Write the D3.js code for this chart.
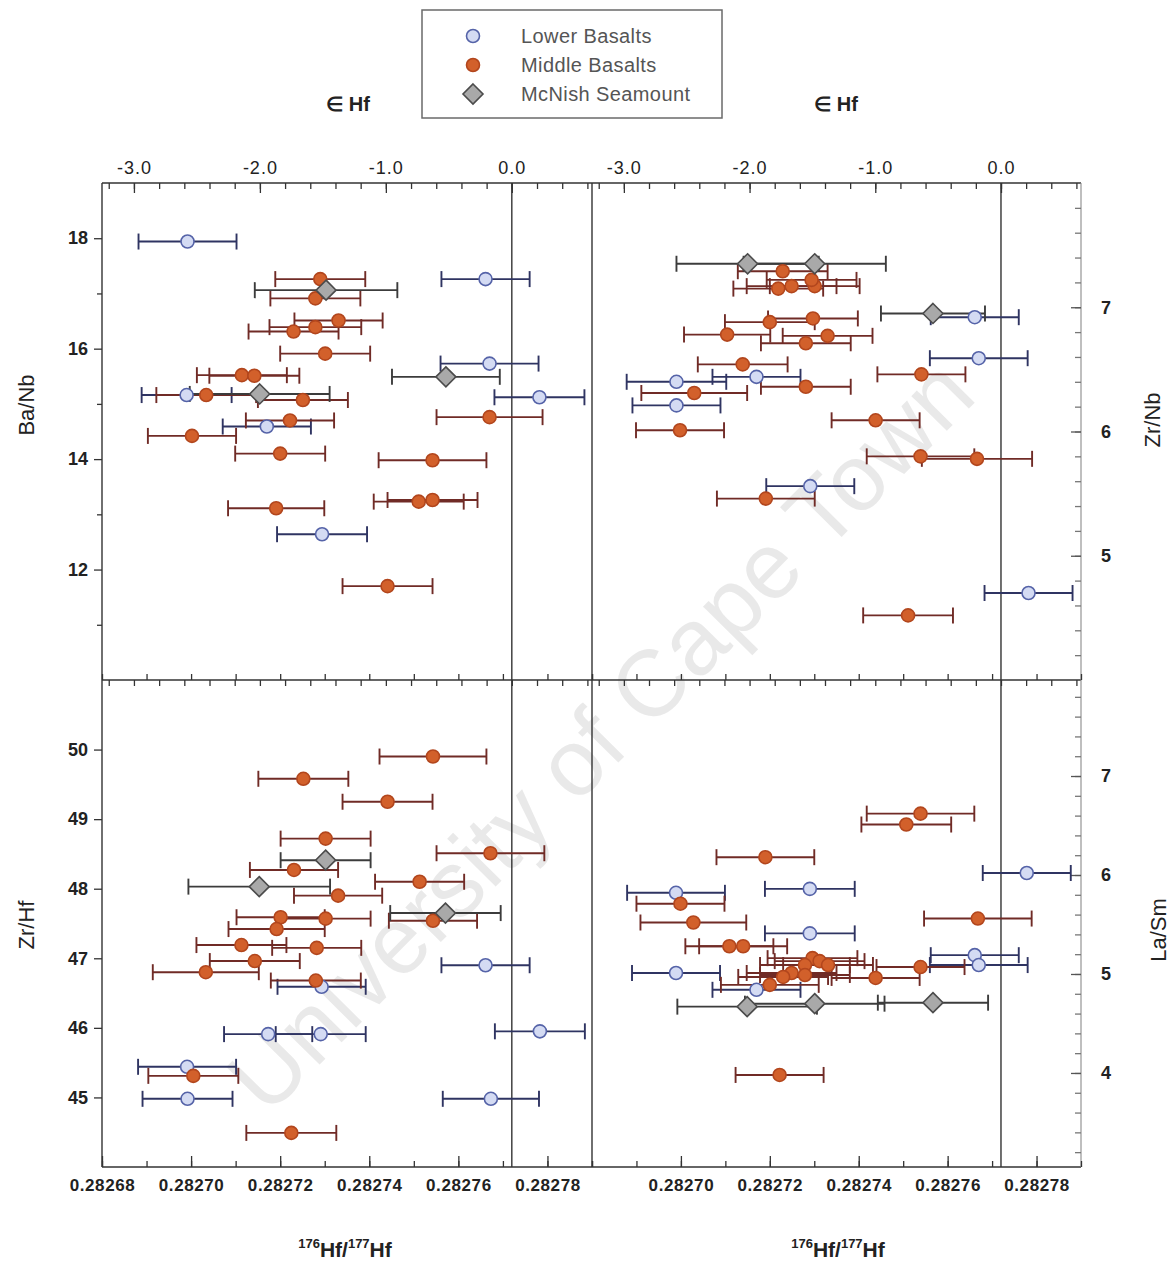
<!DOCTYPE html>
<html>
<head>
<meta charset="utf-8">
<script src="https://cdn.jsdelivr.net/npm/d3@7"></script>
<style>
  html, body { margin: 0; padding: 0; background: #fff; }
  svg { display: block; font-family: "Liberation Sans", Arial, sans-serif; }
</style>
</head>
<body>
<svg id="chart" width="1175" height="1265"></svg>
<script>
// 176Hf/177Hf against trace-element ratios, Lower / Middle Basalts and McNish Seamount.
// Each row: [176Hf/177Hf, element ratio, error half-width on 176Hf/177Hf]

const chur = 0.282772;                 // chondritic 176Hf/177Hf used for the εHf scale
const ratioDomain = [0.28268, 0.28279];

const seriesNames = ["Lower Basalts", "Middle Basalts", "McNish Seamount"];

// ---- Ba/Nb ----
const baNbLower = [
  [0.2826992, 17.94, 0.0000110], [0.2827661, 17.26, 0.0000099], [0.2827670, 15.73, 0.0000110],
  [0.2826990, 15.16, 0.0000101], [0.2827170, 14.59, 0.0000099], [0.2827782, 15.12, 0.0000101],
  [0.2827294, 12.64, 0.0000101]
];
const baNbMiddle = [
  [0.2827290, 17.26, 0.0000101], [0.2827279, 16.91, 0.0000101], [0.2827331, 16.51, 0.0000099],
  [0.2827279, 16.39, 0.0000103], [0.2827230, 16.31, 0.0000101], [0.2827301, 15.91, 0.0000101],
  [0.2827114, 15.52, 0.0000101], [0.2827142, 15.51, 0.0000101], [0.2827034, 15.16, 0.0000112],
  [0.2827251, 15.07, 0.0000101], [0.2827222, 14.70, 0.0000099], [0.2827670, 14.76, 0.0000119],
  [0.2827002, 14.42, 0.0000099], [0.2827200, 14.10, 0.0000101], [0.2827542, 13.98, 0.0000121],
  [0.2827511, 13.23, 0.0000101], [0.2827542, 13.26, 0.0000101], [0.2827191, 13.11, 0.0000108],
  [0.2827441, 11.70, 0.0000101]
];
const baNbMcNish = [
  [0.2827303, 17.06, 0.0000160], [0.2827572, 15.49, 0.0000121], [0.2827154, 15.18, 0.0000157]
];

// ---- Zr/Hf ----
const zrHfLower = [
  [0.2827661, 46.90, 0.0000099], [0.2827293, 46.59, 0.0000099], [0.2827173, 45.91, 0.0000099],
  [0.2827291, 45.91, 0.0000101], [0.2827783, 45.95, 0.0000101], [0.2826991, 45.44, 0.0000110],
  [0.2826992, 44.98, 0.0000101], [0.2827673, 44.98, 0.0000108]
];
const zrHfMiddle = [
  [0.2827543, 49.90, 0.0000120], [0.2827252, 49.58, 0.0000101], [0.2827441, 49.25, 0.0000101],
  [0.2827302, 48.72, 0.0000101], [0.2827672, 48.51, 0.0000121], [0.2827231, 48.27, 0.0000099],
  [0.2827513, 48.10, 0.0000100], [0.2827330, 47.90, 0.0000099], [0.2827543, 47.54, 0.0000099],
  [0.2827201, 47.59, 0.0000099], [0.2827302, 47.57, 0.0000101], [0.2827192, 47.42, 0.0000108],
  [0.2827113, 47.19, 0.0000101], [0.2827282, 47.15, 0.0000100], [0.2827143, 46.96, 0.0000101],
  [0.2827033, 46.80, 0.0000119], [0.2827280, 46.68, 0.0000101], [0.2827005, 45.31, 0.0000101],
  [0.2827225, 44.49, 0.0000101]
];
const zrHfMcNish = [
  [0.2827302, 48.41, 0.0000101], [0.2827153, 48.03, 0.0000159], [0.2827571, 47.65, 0.0000124]
];

// ---- Zr/Nb ----
const zrNbLower = [
  [0.2827661, 6.92, 0.0000099], [0.2827670, 6.59, 0.0000110], [0.2827170, 6.44, 0.0000099],
  [0.2826990, 6.40, 0.0000112], [0.2826990, 6.21, 0.0000099], [0.2827291, 5.56, 0.0000099],
  [0.2827782, 4.70, 0.0000099]
];
const zrNbMiddle = [
  [0.2827229, 7.29, 0.0000101], [0.2827219, 7.15, 0.0000101], [0.2827249, 7.17, 0.0000101],
  [0.2827301, 7.17, 0.0000101], [0.2827294, 7.22, 0.0000101], [0.2827200, 6.88, 0.0000101],
  [0.2827297, 6.91, 0.0000101], [0.2827104, 6.78, 0.0000097], [0.2827330, 6.77, 0.0000101],
  [0.2827281, 6.71, 0.0000101], [0.2827139, 6.54, 0.0000101], [0.2827541, 6.46, 0.0000099],
  [0.2827281, 6.36, 0.0000101], [0.2827030, 6.31, 0.0000119], [0.2826998, 6.01, 0.0000099],
  [0.2827438, 6.09, 0.0000099], [0.2827539, 5.80, 0.0000121], [0.2827666, 5.78, 0.0000124],
  [0.2827191, 5.46, 0.0000110], [0.2827511, 4.52, 0.0000101]
];
const zrNbMcNish = [
  [0.2827150, 7.35, 0.0000160], [0.2827301, 7.35, 0.0000160], [0.2827567, 6.95, 0.0000117]
];

// ---- La/Sm ----
const laSmLower = [
  [0.2827778, 6.02, 0.0000099], [0.2827290, 5.86, 0.0000101], [0.2826989, 5.82, 0.0000110],
  [0.2827290, 5.41, 0.0000101], [0.2827661, 5.19, 0.0000099], [0.2827670, 5.09, 0.0000110],
  [0.2826989, 5.01, 0.0000099], [0.2827170, 4.84, 0.0000099]
];
const laSmMiddle = [
  [0.2827539, 6.62, 0.0000121], [0.2827507, 6.51, 0.0000101], [0.2827190, 6.18, 0.0000110],
  [0.2826999, 5.71, 0.0000099], [0.2827028, 5.52, 0.0000119], [0.2827668, 5.56, 0.0000121],
  [0.2827109, 5.28, 0.0000099], [0.2827140, 5.28, 0.0000099], [0.2827539, 5.07, 0.0000099],
  [0.2827296, 5.16, 0.0000101], [0.2827312, 5.13, 0.0000101], [0.2827331, 5.09, 0.0000101],
  [0.2827279, 5.09, 0.0000101], [0.2827249, 5.01, 0.0000101], [0.2827279, 4.99, 0.0000101],
  [0.2827230, 4.97, 0.0000101], [0.2827200, 4.89, 0.0000110], [0.2827438, 4.96, 0.0000099],
  [0.2827222, 3.98, 0.0000099]
];
const laSmMcNish = [
  [0.2827149, 4.67, 0.0000157], [0.2827301, 4.70, 0.0000157], [0.2827567, 4.71, 0.0000124]
];

// ---- tick values and labels ----
const ratioTicksLeft  = [0.28268, 0.28270, 0.28272, 0.28274, 0.28276, 0.28278];
const ratioLabelsLeft = ["0.28268", "0.28270", "0.28272", "0.28274", "0.28276", "0.28278"];
const ratioTicksRight  = [0.28270, 0.28272, 0.28274, 0.28276, 0.28278];
const ratioLabelsRight = ["0.28270", "0.28272", "0.28274", "0.28276", "0.28278"];
const epsTicks  = [-3, -2, -1, 0];
const epsLabels = ["-3.0", "-2.0", "-1.0", "0.0"];
const baNbTicks = [12, 14, 16, 18];
const zrHfTicks = [45, 46, 47, 48, 49, 50];
const zrNbTicks = [5, 6, 7];
const laSmTicks = [4, 5, 6, 7];

// ---------------------------------------------------------------------------
const svg = d3.select("#chart");
const yTop = 183, yMid = 680, yBot = 1167;
const leftX = [102, 592], rightX = [592, 1081];
const ink = "#333";

const eps = r => (r / chur - 1) * 1e4;

const xL = d3.scaleLinear().domain(ratioDomain).range(leftX);
const xR = d3.scaleLinear().domain(ratioDomain).range(rightX);
const eL = d3.scaleLinear().domain(ratioDomain.map(eps)).range(leftX);
const eR = d3.scaleLinear().domain(ratioDomain.map(eps)).range(rightX);

const yBaNb = d3.scaleLinear().domain([10, 19]).range([yMid, yTop]);
const yZrHf = d3.scaleLinear().domain([44, 51]).range([yBot, yMid]);
const yZrNb = d3.scaleLinear().domain([4, 8]).range([yMid, yTop]);
const yLaSm = d3.scaleLinear().domain([3.05, 7.97]).range([yBot, yMid]);

const styles = [
  { shape: "circle",  fill: "#d4dbf3", stroke: "#5563a8", bar: "#2f3462" },
  { shape: "circle",  fill: "#d2602b", stroke: "#b2461d", bar: "#702b26" },
  { shape: "diamond", fill: "#a9a9a9", stroke: "#4b4b4b", bar: "#3c3c3c" }
];

// watermark behind the data
svg.append("text")
  .attr("transform", "translate(600,735) rotate(-45.3)")
  .attr("text-anchor", "middle")
  .attr("dominant-baseline", "central")
  .attr("font-size", 94)
  .attr("fill", "#c8c8c8")
  .attr("fill-opacity", 0.4)
  .text("University of Cape Town");

// frame and reference lines
const frame = svg.append("g").attr("stroke", ink).attr("stroke-width", 1.4).attr("fill", "none");
const hline = (y, x0, x1) => frame.append("line").attr("x1", x0).attr("x2", x1).attr("y1", y).attr("y2", y);
const vline = (x, y0, y1, c, w) => frame.append("line").attr("x1", x).attr("x2", x).attr("y1", y0).attr("y2", y1)
  .attr("stroke", c || ink).attr("stroke-width", w || 1.4);
hline(yTop, leftX[0], rightX[1]);
hline(yMid, leftX[0], rightX[1]);
hline(yBot, leftX[0], rightX[1]);
vline(leftX[0], yTop, yBot);
vline(leftX[1], yTop, yBot);
vline(rightX[1], yTop, yBot, "#8a8a8a", 1.1);
vline(xL(chur), yTop, yBot);
vline(xR(chur), yTop, yBot);

// axis helper: draws ticks, strips the domain path and sets the text style
function axis(gen, tx, ty, opts) {
  const g = svg.append("g").attr("transform", `translate(${tx},${ty})`).call(gen);
  g.select(".domain").remove();
  g.selectAll("line").attr("stroke", opts.tickColor || ink).attr("stroke-width", 1.3);
  g.selectAll("text")
    .attr("font-family", "'Liberation Sans', Arial, sans-serif")
    .attr("font-size", opts.size || 17)
    .attr("font-weight", opts.weight || "bold")
    .attr("letter-spacing", opts.spacing || 0)
    .attr("fill", "#222");
  return g;
}

const epsMinor = d3.range(-16, 4).map(i => i * 0.2);
const ratioMinor = d3.range(0, 12).map(i => ratioDomain[0] + i * 0.00001);

[[eL, xL], [eR, xR]].forEach(([e, x], k) => {
  // top εHf axis, ticks pointing into the plot
  axis(d3.axisTop(e).tickValues(epsMinor).tickSize(-6).tickFormat(""), 0, yTop, {});
  axis(d3.axisTop(e).tickValues(epsTicks).tickSize(-10).tickPadding(9)
    .tickFormat((d, i) => epsLabels[i]), 0, yTop, { weight: "normal", size: 18, spacing: 1 });
  // shared middle line: ε ticks below, ratio ticks above
  axis(d3.axisTop(e).tickValues(epsMinor).tickSize(-6).tickFormat(""), 0, yMid, {});
  axis(d3.axisBottom(x).tickValues(ratioMinor).tickSize(-6).tickFormat(""), 0, yMid, {});
  // bottom ratio axis
  axis(d3.axisBottom(x).tickValues(ratioMinor).tickSize(-6).tickFormat(""), 0, yBot, {});
  const tv = k === 0 ? ratioTicksLeft : ratioTicksRight;
  const tl = k === 0 ? ratioLabelsLeft : ratioLabelsRight;
  axis(d3.axisBottom(x).tickValues(tv).tickSize(-11).tickPadding(12)
    .tickFormat((d, i) => tl[i]), 0, yBot, { size: 17, spacing: 0.6 });
});

// left axes
axis(d3.axisLeft(yBaNb).tickValues(d3.range(11, 19, 2)).tickSize(5).tickFormat(""), leftX[0], 0, {});
axis(d3.axisLeft(yBaNb).tickValues(baNbTicks).tickSize(8).tickPadding(6).tickFormat(d3.format("d")), leftX[0], 0, { size: 18 });
axis(d3.axisLeft(yZrHf).tickValues(zrHfTicks).tickSize(8).tickPadding(6).tickFormat(d3.format("d")), leftX[0], 0, { size: 18 });

// right axes
axis(d3.axisRight(yZrNb).tickValues(d3.range(21, 40).map(i => i * 0.2)).tickSize(-6).tickFormat(""), rightX[1], 0, { tickColor: "#777" });
axis(d3.axisRight(yZrNb).tickValues(zrNbTicks).tickSize(-10).tickPadding(20).tickFormat(d3.format("d")), rightX[1], 0, { size: 18, tickColor: "#555" });
axis(d3.axisRight(yLaSm).tickValues(d3.range(16, 40).map(i => i * 0.2)).tickSize(-6).tickFormat(""), rightX[1], 0, { tickColor: "#777" });
axis(d3.axisRight(yLaSm).tickValues(laSmTicks).tickSize(-10).tickPadding(20).tickFormat(d3.format("d")), rightX[1], 0, { size: 18, tickColor: "#555" });

// data
const panels = [
  { x: xL, y: yBaNb, series: [baNbLower, baNbMiddle, baNbMcNish] },
  { x: xL, y: yZrHf, series: [zrHfLower, zrHfMiddle, zrHfMcNish] },
  { x: xR, y: yZrNb, series: [zrNbLower, zrNbMiddle, zrNbMcNish] },
  { x: xR, y: yLaSm, series: [laSmLower, laSmMiddle, laSmMcNish] }
];

const cap = 8;
const diamond = h => `M0,${-h}L${h},0L0,${h}L${-h},0Z`;

function marker(sel, st) {
  if (st.shape === "circle") {
    sel.append("circle").attr("r", 6.5)
      .attr("fill", st.fill).attr("stroke", st.stroke).attr("stroke-width", 1.6);
  } else {
    sel.append("path").attr("d", diamond(10))
      .attr("fill", st.fill).attr("stroke", st.stroke).attr("stroke-width", 1.6);
  }
}

const barLayer = svg.append("g");
const markLayer = svg.append("g");

panels.forEach(p => {
  p.series.forEach((rows, si) => {
    const st = styles[si];
    const bars = barLayer.append("g").attr("stroke", st.bar).attr("stroke-width", 1.9).attr("fill", "none")
      .selectAll("g").data(rows).join("g");
    bars.append("line")
      .attr("x1", d => p.x(d[0] - d[2])).attr("x2", d => p.x(d[0] + d[2]))
      .attr("y1", d => p.y(d[1])).attr("y2", d => p.y(d[1]));
    bars.append("line")
      .attr("x1", d => p.x(d[0] - d[2])).attr("x2", d => p.x(d[0] - d[2]))
      .attr("y1", d => p.y(d[1]) - cap).attr("y2", d => p.y(d[1]) + cap);
    bars.append("line")
      .attr("x1", d => p.x(d[0] + d[2])).attr("x2", d => p.x(d[0] + d[2]))
      .attr("y1", d => p.y(d[1]) - cap).attr("y2", d => p.y(d[1]) + cap);

    markLayer.append("g").selectAll("g").data(rows).join("g")
      .attr("transform", d => `translate(${p.x(d[0])},${p.y(d[1])})`)
      .each(function () { marker(d3.select(this), st); });
  });
});

// axis titles
const title = (txt, x, y, rot, size, weight) => svg.append("text")
  .attr("transform", `translate(${x},${y}) rotate(${rot})`)
  .attr("text-anchor", "middle").attr("dominant-baseline", "central")
  .attr("font-size", size).attr("font-weight", weight || "normal")
  .attr("fill", "#222").text(txt);

title("Ba/Nb", 26, 405, -90, 22);
title("Zr/Hf", 26, 925, -90, 22);
title("Zr/Nb", 1152, 420, -90, 22);
title("La/Sm", 1158, 930, -90, 22);
title("∈ Hf", 348, 104, 0, 20, "bold");
title("∈ Hf", 836, 104, 0, 20, "bold");

[345, 838].forEach(cx => {
  const t = svg.append("text").attr("x", cx).attr("y", 1257).attr("text-anchor", "middle")
    .attr("font-size", 21).attr("font-weight", "bold").attr("fill", "#222");
  t.append("tspan").attr("font-size", 13).attr("dy", -9).text("176");
  t.append("tspan").attr("dy", 9).text("Hf/");
  t.append("tspan").attr("font-size", 13).attr("dy", -9).text("177");
  t.append("tspan").attr("dy", 9).text("Hf");
});

// legend
const legend = svg.append("g");
legend.append("rect").attr("x", 422).attr("y", 10).attr("width", 300).attr("height", 108)
  .attr("fill", "#fff").attr("stroke", "#6a6a6a").attr("stroke-width", 1.5);
seriesNames.forEach((name, i) => {
  const row = legend.append("g").attr("transform", `translate(0,${36 + i * 29})`);
  const m = row.append("g").attr("transform", "translate(473,0)");
  marker(m, styles[i]);
  row.append("text").attr("x", 521).attr("y", 0).attr("dominant-baseline", "central")
    .attr("font-size", 20).attr("letter-spacing", 0.4).attr("fill", "#555").text(name);
});
</script>
</body>
</html>
